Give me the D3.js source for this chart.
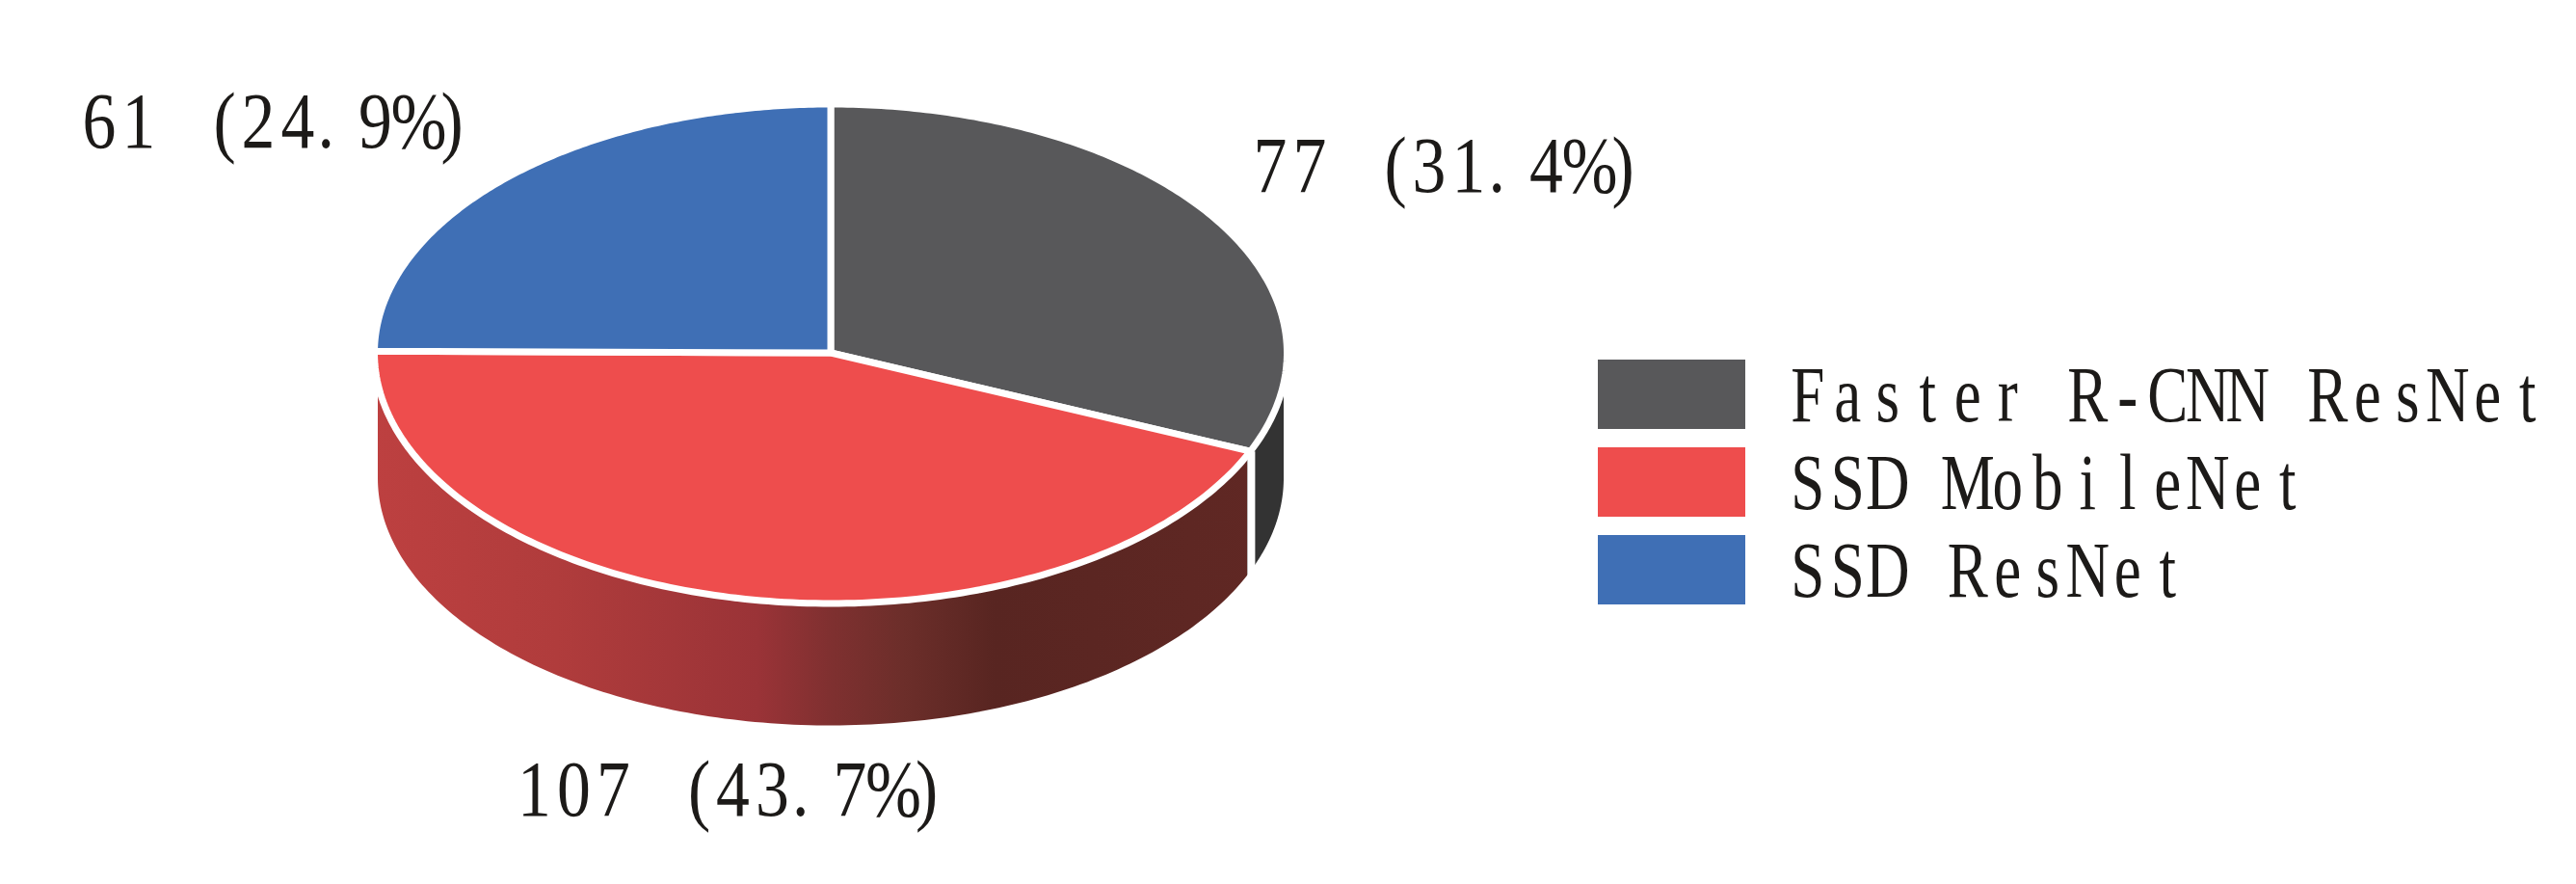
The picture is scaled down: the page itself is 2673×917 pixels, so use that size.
<!DOCTYPE html>
<html><head><meta charset="utf-8">
<script src="https://cdn.jsdelivr.net/npm/d3@7"></script>
<style>html,body{margin:0;padding:0;background:#fff}svg{display:block}text{font-family:"Liberation Serif",serif;fill:#1c1a18}</style>
</head><body><svg id="c" width="2673" height="917"></svg>
<script>
const categories=["Faster R-CNN ResNet","SSD MobileNet","SSD ResNet"];
const values=[77,107,61];
const percents=["31.4","43.7","24.9"];
const colors=["#58585a","#ee4d4d","#3f6fb5"];
const wallColors=["#333333",null,null];

const cx=862,cy=366,rx=473.5,ryTop=258,ryBottom=260,inset=3.5,depth=130,strokeW=7;
const svg=d3.select("#c");
const defs=svg.append("defs");
const grad=defs.append("linearGradient").attr("id","wall").attr("gradientUnits","userSpaceOnUse")
  .attr("x1",cx-rx).attr("x2",cx+rx).attr("y1",0).attr("y2",0);
[[0,"#bd4040"],[0.2,"#b03c3c"],[0.42,"#9a3337"],[0.5,"#7f3030"],[0.58,"#6c2e2a"],[0.68,"#582521"],[1,"#612824"]]
 .forEach(s=>grad.append("stop").attr("offset",s[0]).attr("stop-color",s[1]));

const pie=d3.pie().sort(null).value(d=>d);
const arcs=pie(values);
// a point on the rim of the disc, `shrink` px inside the stroke centre line
const rim=(a,shrink=0)=>{
  const c=Math.cos(a),ry=(c>0?ryTop:ryBottom)-shrink;
  return [cx+(rx-shrink)*Math.sin(a),cy-ry*c];
};
const sweep=(a0,a1,n=160)=>d3.range(0,n+1).map(k=>a0+(a1-a0)*k/n);
const line=d3.line();

// walls: only the front half of the disc is visible
arcs.forEach((d,i)=>{
  const a0=Math.max(d.startAngle,Math.PI/2),a1=Math.min(d.endAngle,Math.PI*1.5);
  if(a1<=a0)return;
  const ang=sweep(a0,a1);
  const pts=ang.map(a=>rim(a,inset)).concat(ang.slice().reverse().map(a=>{const p=rim(a,inset);return [p[0],p[1]+depth];}));
  svg.append("path").attr("d",line(pts)+"Z").attr("fill",wallColors[i]||"url(#wall)");
});
// white edge between the two walls
const ePt=rim(arcs[0].endAngle);
svg.append("line").attr("x1",ePt[0]+1).attr("x2",ePt[0]+1).attr("y1",ePt[1]).attr("y2",ePt[1]+depth+6)
  .attr("stroke","#fff").attr("stroke-width",8);

// top face
svg.append("g").selectAll("path").data(arcs).join("path")
  .attr("d",d=>line([[cx,cy]].concat(sweep(d.startAngle,d.endAngle).map(a=>rim(a))))+"Z")
  .attr("fill",(d,i)=>colors[i]).attr("stroke","#fff").attr("stroke-width",strokeW).attr("stroke-linejoin","round");

// narrow half-width text: each glyph is placed in its own cell
const FS=83;
function mono(x,y,str,cell,sx){
  const xs=[];let p=x;
  for(const ch of str){const c=cell(ch);xs.push((p+c[0]*c[1])/sx);p+=c[0];}
  return svg.append("text").attr("transform",`scale(${sx},1)`).attr("x",xs.join(" ")).attr("y",y)
    .attr("text-anchor","middle").attr("font-size",FS).text(str.replace(/ /g,"\u00a0"));
}
const legendCell=()=>[41.5,0.5];
const labelCell=ch=>ch==="("?[29,0.5]:ch==="."?[39.5,0.22]:ch===" "?[54,0.5]:ch==="%"?[49,0.5]:ch===")"?[29,0.35]:[41,0.5];
const labelPos=[[1297.5,199],[534,846],[82.5,153]];
arcs.forEach((d,i)=>mono(labelPos[i][0],labelPos[i][1],`${values[i]} (${percents[i]}%)`,labelCell,0.84));

// legend
const ly=d3.scaleBand().domain(categories).range([373,627]).paddingInner(0.209);
categories.forEach((c,i)=>{
  svg.append("rect").attr("x",1658).attr("y",ly(c)).attr("width",153).attr("height",ly.bandwidth()).attr("fill",colors[i]);
  mono(1855,ly(c)+64.5,c,legendCell,0.76);
});
</script></body></html>
